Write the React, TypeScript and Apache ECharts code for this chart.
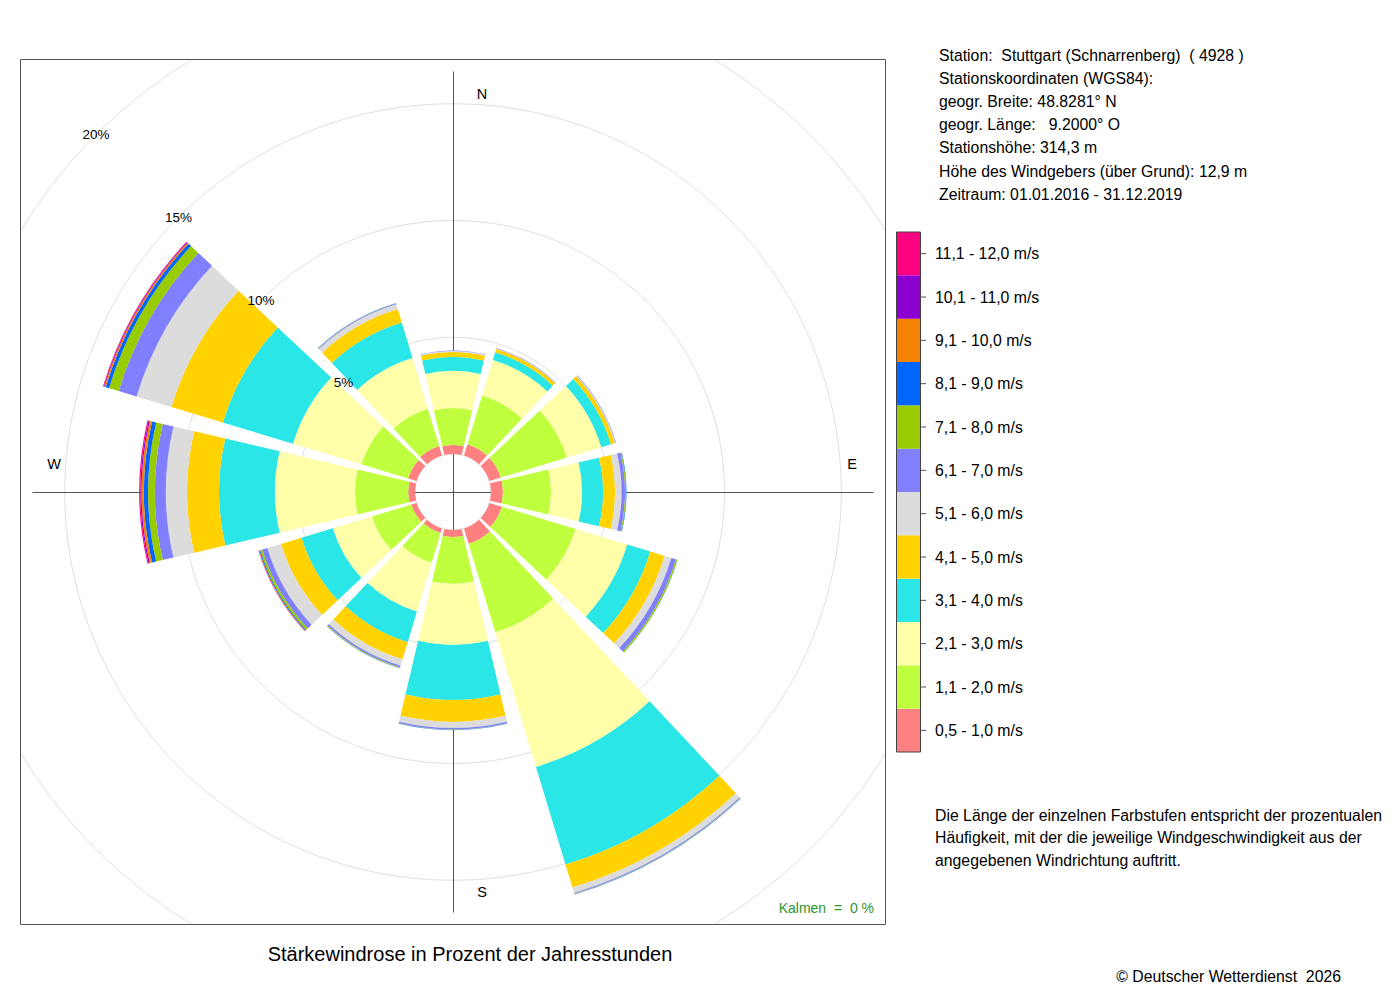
import React, { useEffect, useRef } from "react";
import * as echarts from "echarts";

// Wind directions (sector centres, degrees from north, clockwise)
const DIRECTIONS = ["0°", "30°", "60°", "90°", "120°", "150°", "180°", "210°", "240°", "270°", "300°", "330°"];

// Speed classes (bottom to top of the stack)
const SPEED_CLASSES = [
  "0,5 - 1,0 m/s",
  "1,1 - 2,0 m/s",
  "2,1 - 3,0 m/s",
  "3,1 - 4,0 m/s",
  "4,1 - 5,0 m/s",
  "5,1 - 6,0 m/s",
  "6,1 - 7,0 m/s",
  "7,1 - 8,0 m/s",
  "8,1 - 9,0 m/s",
  "9,1 - 10,0 m/s",
  "10,1 - 11,0 m/s",
  "11,1 - 12,0 m/s",
];

const CLASS_COLORS = [
  "#FF8080",
  "#C0FF3E",
  "#FFFFAA",
  "#2AE6E6",
  "#FFD200",
  "#DCDCDC",
  "#8080FF",
  "#99CC00",
  "#0066FF",
  "#F58200",
  "#8C00D2",
  "#FF0080",
];

// Percent of yearly hours per direction, one array per speed class
const S_05_10 = [0.39, 0.51, 0.51, 0.51, 0.56, 0.69, 0.3, 0.21, 0.24, 0.29, 0.38, 0.43];
const S_11_20 = [1.58, 2.18, 2.96, 2.06, 3.3, 3.96, 2.01, 1.33, 1.76, 2.28, 2.09, 1.67];
const S_21_30 = [1.59, 1.59, 1.54, 1.33, 2.31, 6.02, 2.61, 2.18, 1.75, 3.43, 3.06, 2.27];
const S_31_40 = [0.6, 0.34, 0.43, 0.9, 1.03, 4.37, 2.36, 1.37, 1.4, 2.39, 3.14, 1.59];
const S_41_50 = [0.21, 0.15, 0.17, 0.51, 0.64, 1.03, 0.94, 0.77, 0.91, 1.37, 2.3, 0.6];
const S_51_60 = [0.04, 0.02, 0.04, 0.28, 0.3, 0.24, 0.26, 0.28, 0.62, 0.91, 1.56, 0.21];
const S_61_70 = [0.02, 0.02, 0.02, 0.15, 0.21, 0.04, 0.06, 0.08, 0.23, 0.47, 0.8, 0.03];
const S_71_80 = [0, 0, 0, 0.04, 0.06, 0.02, 0.02, 0.03, 0.09, 0.29, 0.43, 0.02];
const S_81_90 = [0, 0, 0, 0.02, 0.01, 0.01, 0.01, 0.01, 0.04, 0.18, 0.15, 0.01];
const S_91_100 = [0, 0, 0, 0, 0, 0, 0, 0, 0.02, 0.1, 0.06, 0];
const S_101_110 = [0, 0, 0, 0, 0, 0, 0, 0, 0.01, 0.05, 0.03, 0];
const S_111_120 = [0, 0, 0, 0, 0, 0, 0, 0, 0.01, 0.05, 0.03, 0];

const SERIES_VALUES = [
  S_05_10, S_11_20, S_21_30, S_31_40, S_41_50, S_51_60,
  S_61_70, S_71_80, S_81_90, S_91_100, S_101_110, S_111_120,
];

const RING_TICKS = [5, 10, 15, 20];

const STATION_LINES = [
  "Station:  Stuttgart (Schnarrenberg)  ( 4928 )",
  "Stationskoordinaten (WGS84):",
  "geogr. Breite: 48.8281° N",
  "geogr. Länge:   9.2000° O",
  "Stationshöhe: 314,3 m",
  "Höhe des Windgebers (über Grund): 12,9 m",
  "Zeitraum: 01.01.2016 - 31.12.2019",
];

const NOTE_LINES = [
  "Die Länge der einzelnen Farbstufen entspricht der prozentualen",
  "Häufigkeit, mit der die jeweilige Windgeschwindigkeit aus der",
  "angegebenen Windrichtung auftritt.",
];

const TITLE = "Stärkewindrose in Prozent der Jahresstunden";
const CALM = "Kalmen  =  0 %";
const COPYRIGHT = "© Deutscher Wetterdienst  2026";

const FONT = "'Liberation Sans', Arial, Helvetica, sans-serif";

export default function App() {
  const ref = useRef<HTMLDivElement>(null);

  useEffect(() => {
    if (!ref.current) return;
    const chart = echarts.init(ref.current, null, { renderer: "svg" });

    const CX = 453;
    const CY = 492;
    const R0 = 38;
    const RMAX = 505;
    const VMAX = 20;
    const rOf = (v: number) => R0 + ((RMAX - R0) * v) / VMAX;

    const totals = DIRECTIONS.map((_, d) =>
      SERIES_VALUES.reduce((s, arr) => s + arr[d], 0)
    );
    const L = rOf(Math.max(...totals));

    const txt = (
      text: string,
      x: number,
      y: number,
      size: number,
      align: string = "left",
      fill: string = "#000",
      z: number = 60
    ) => ({
      type: "text",
      z,
      silent: true,
      style: {
        text,
        x,
        y,
        fontSize: size,
        fontFamily: FONT,
        fill,
        align,
        verticalAlign: "middle",
      },
    });

    const graphic: any[] = [];
    // cross axes (under the bars)
    graphic.push({
      type: "line",
      z: 1,
      silent: true,
      shape: { x1: CX + 0.5, y1: CY - L, x2: CX + 0.5, y2: CY + L },
      style: { stroke: "#555", lineWidth: 1 },
    });
    graphic.push({
      type: "line",
      z: 1,
      silent: true,
      shape: { x1: CX - L, y1: CY + 0.5, x2: CX + L, y2: CY + 0.5 },
      style: { stroke: "#555", lineWidth: 1 },
    });
    // white masks outside the plot box
    const masks = [
      { x: 0, y: 0, width: 1400, height: 59 },
      { x: 0, y: 925, width: 1400, height: 75 },
      { x: 0, y: 0, width: 20, height: 1000 },
      { x: 886, y: 0, width: 514, height: 1000 },
    ];
    masks.forEach((m) =>
      graphic.push({ type: "rect", z: 50, silent: true, shape: m, style: { fill: "#fff" } })
    );
    // plot box
    graphic.push({
      type: "rect",
      z: 60,
      silent: true,
      shape: { x: 20.5, y: 59.5, width: 865, height: 865 },
      style: { fill: "none", stroke: "#555", lineWidth: 1 },
    });
    // compass labels
    graphic.push(txt("N", CX + 29, CY - 398, 14.5, "center"));
    graphic.push(txt("S", CX + 29, CY + 400, 14.5, "center"));
    graphic.push(txt("E", CX + 399, CY - 28, 14.5, "center"));
    graphic.push(txt("W", CX - 399, CY - 28, 14.5, "center"));
    // ring labels along the NW diagonal
    RING_TICKS.forEach((t) => {
      const r = rOf(t);
      graphic.push(txt(t + "%", CX - r * Math.SQRT1_2, CY - r * Math.SQRT1_2, 13.5, "center"));
    });
    // calm
    graphic.push(txt(CALM, 874, 908, 14, "right", "#2E962E"));
    // title
    graphic.push(txt(TITLE, 470, 954, 20, "center"));
    // copyright
    graphic.push(txt(COPYRIGHT, 1341, 976, 15.8, "right"));
    // station info
    STATION_LINES.forEach((s, i) => graphic.push(txt(s, 939, 55 + i * 23.2, 15.8)));
    // note
    NOTE_LINES.forEach((s, i) => graphic.push(txt(s, 935, 815 + i * 22.5, 15.8)));
    // legend colour bar
    const LX = 897;
    const LTOP = 232;
    const LBOT = 752;
    const LH = (LBOT - LTOP) / SPEED_CLASSES.length;
    SPEED_CLASSES.forEach((label, i) => {
      const y = LTOP + (SPEED_CLASSES.length - 1 - i) * LH;
      graphic.push({
        type: "rect",
        z: 60,
        silent: true,
        shape: { x: LX, y, width: 23, height: LH },
        style: { fill: CLASS_COLORS[i] },
      });
      graphic.push({
        type: "line",
        z: 61,
        silent: true,
        shape: { x1: 920, y1: y + LH / 2, x2: 926, y2: y + LH / 2 },
        style: { stroke: "#555", lineWidth: 1 },
      });
      graphic.push(txt(label, 935, y + LH / 2, 15.8));
    });
    graphic.push({
      type: "rect",
      z: 61,
      silent: true,
      shape: { x: LX - 0.5, y: LTOP, width: 24, height: LBOT - LTOP },
      style: { fill: "none", stroke: "#444", lineWidth: 1 },
    });

    chart.setOption({
      animation: false,
      backgroundColor: "#fff",
      polar: { center: [CX, CY], radius: [R0, RMAX] },
      angleAxis: {
        type: "category",
        data: DIRECTIONS,
        startAngle: 105,
        clockwise: true,
        axisLine: { show: false },
        axisTick: { show: false },
        axisLabel: { show: false },
        splitLine: { show: false },
      },
      radiusAxis: {
        type: "value",
        min: 0,
        max: VMAX,
        interval: 5,
        axisLine: { show: false },
        axisTick: { show: false },
        axisLabel: { show: false },
        splitLine: { show: true, lineStyle: { color: "#e0e0e0", width: 1 } },
      },
      series: SPEED_CLASSES.map((name, i) => ({
        name,
        type: "bar",
        coordinateSystem: "polar",
        stack: "total",
        data: SERIES_VALUES[i],
        barCategoryGap: "12%",
        itemStyle: { color: CLASS_COLORS[i] },
        silent: true,
        z: 2,
      })),
      graphic,
    });

    return () => chart.dispose();
  }, []);

  return (
    <div
      ref={ref}
      style={{ position: "absolute", left: 0, top: 0, width: 1400, height: 1000 }}
    />
  );
}
